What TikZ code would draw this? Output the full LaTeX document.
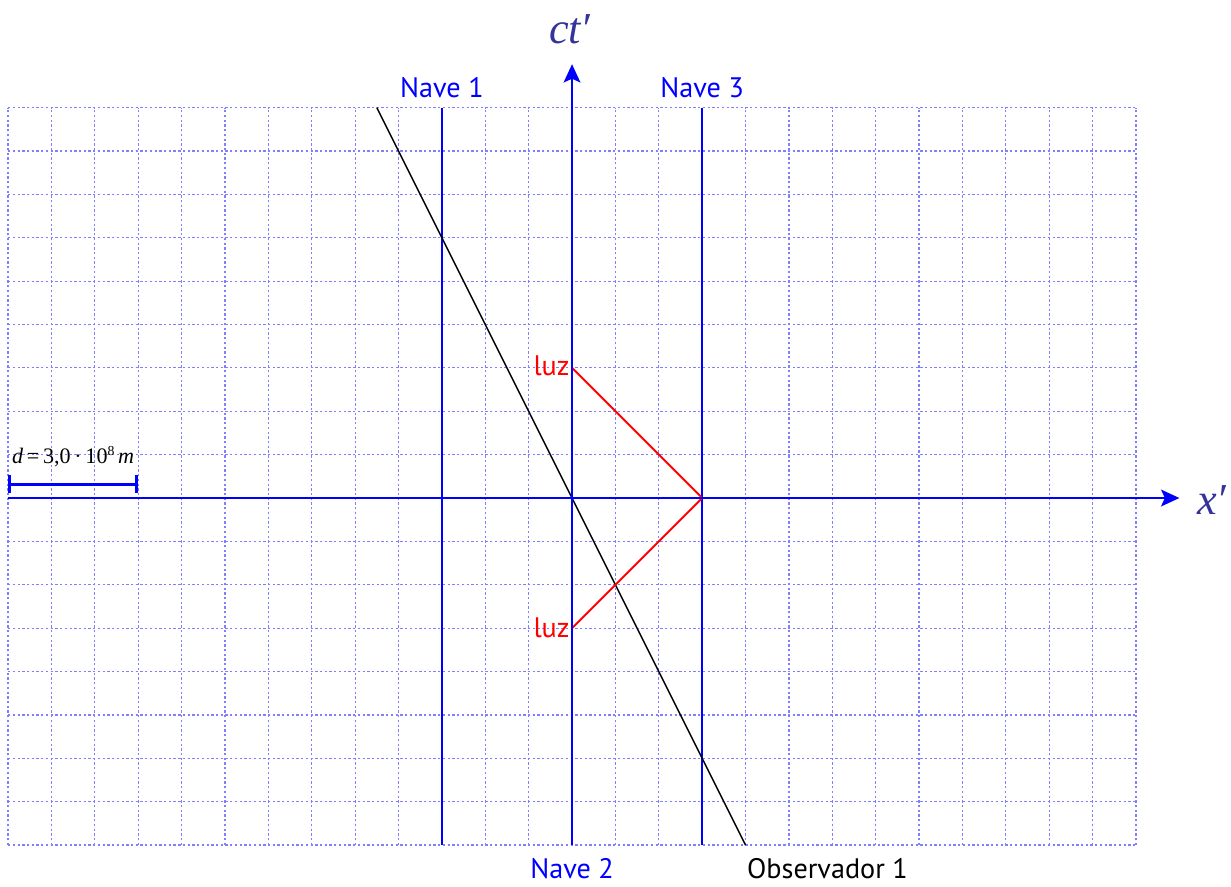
\documentclass[tikz,border=0pt]{standalone}
\usepackage{fontspec}
\setsansfont{PT Sans}
\newfontfamily\tmsfont{Liberation Serif}
\usetikzlibrary{arrows.meta}
\definecolor{gridblue}{RGB}{128,128,255}
\definecolor{axislabel}{RGB}{51,51,153}
\begin{document}
\begin{tikzpicture}[x=1cm,y=1cm,
  gridline/.style={gridblue, line width=0.8pt, dash pattern=on 1.5pt off 1.6pt},
  axisline/.style={blue, line width=1.3pt, -{Stealth[length=12pt,width=11pt,inset=2.5pt]}},
  worldline/.style={blue, line width=1.3pt},
  lightray/.style={red, line width=1.3pt},
  observer/.style={black, line width=1pt},
  scalebar/.style={blue, line width=2pt, {Bar[width=12pt]}-{Bar[width=12pt]}},
  lbl/.style={font=\sffamily\fontsize{18.5}{20}\selectfont, inner sep=0pt},
  axlbl/.style={text=axislabel, font=\tmsfont\itshape\fontsize{29}{34}\selectfont, inner sep=0pt}]
\useasboundingbox (-13.186,-8.944) rectangle (15.19,11.48);
\foreach \x in {-13,...,13} \draw[gridline] (\x,-8) -- (\x,9);
\foreach \y in {-8,...,9} \draw[gridline] (-13,\y) -- (13,\y);
% coordinates
\coordinate (O) at (0,0);
\coordinate (xs) at (-13,0);
\coordinate (xe) at (14,0);
\coordinate (ts) at (0,-8);
\coordinate (te) at (0,10);
\coordinate (n1b) at (-3,-8);
\coordinate (n1t) at (-3,9);
\coordinate (n3b) at (3,-8);
\coordinate (n3t) at (3,9);
\coordinate (ob) at (4,-8);
\coordinate (ot) at (-4.5,9);
\coordinate (L1) at (0,3);
\coordinate (R) at (3,0);
\coordinate (L2) at (0,-3);
\coordinate (sb1) at (-13,0.32);
\coordinate (sb2) at (-10,0.32);
% lines
\draw[worldline] (n1b) -- (n1t);
\draw[worldline] (n3b) -- (n3t);
\draw[observer] (ob) -- (ot);
\draw[lightray] (L1) -- (R) -- (L2);
\draw[axisline] (xs) -- (xe);
\draw[axisline] (ts) -- (te);
\draw[scalebar] (sb1) -- (sb2);
% labels
\node[axlbl] (ctlbl) at (-0.05,10.8) {ct′};
\node[axlbl] (xlbl) at (14.75,-0.05) {x′};
\node[lbl, text=blue] (nave1) at (-3,9.45) {Nave 1};
\node[lbl, text=blue] (nave3) at (3,9.45) {Nave 3};
\node[lbl, text=blue] (nave2) at (0,-8.55) {Nave 2};
\node[lbl, anchor=west] (obs) at (4.03,-8.55) {Observador 1};
\node[lbl, text=red, anchor=east] (luz1) at (-0.05,3.05) {luz};
\node[lbl, text=red, anchor=east] (luz2) at (-0.05,-3.0) {luz};
\node[font=\tmsfont\fontsize{14.5}{16}\selectfont, inner sep=0pt] (dlbl) at (-11.5,0.95) {\textit{d}\,=\,3,0\,·\,10\raisebox{0.8ex}{\fontsize{9}{10}\selectfont 8}\,\textit{m}};
\end{tikzpicture}
\end{document}
